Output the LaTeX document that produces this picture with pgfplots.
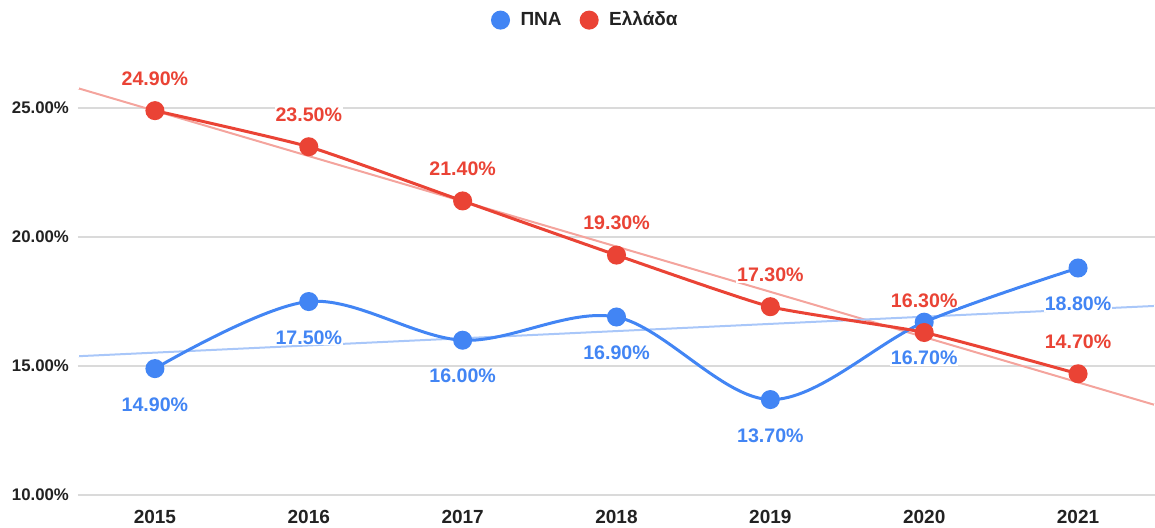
\documentclass[border=0pt]{standalone}
\usepackage{pgfplots}
\pgfplotsset{compat=1.18}
\usepackage{fontspec}
\setmainfont{Liberation Sans}
\definecolor{cblue}{HTML}{4285F4}
\definecolor{cred}{HTML}{EA4335}
\definecolor{tblue}{HTML}{A9C7F9}
\definecolor{tred}{HTML}{F4A49D}
\definecolor{gridc}{HTML}{DADADA}
\definecolor{txt}{HTML}{222222}
\begin{document}
\begin{tikzpicture}
\useasboundingbox (-39pt,-16pt) rectangle (538.5pt,247.5pt);
\begin{axis}[
  scale only axis, width=538.5pt, height=227pt,
  xmin=-0.5, xmax=6.5, ymin=10, ymax=27.6,
  clip=false,
  axis line style={draw=none},
  major tick length=0pt,
  xtick={0,1,2,3,4,5,6},
  xticklabels={2015,2016,2017,2018,2019,2020,2021},
  ytick={10,15,20,25},
  yticklabel={\pgfmathprintnumber[fixed,fixed zerofill,precision=2]{\tick}\%},
  /pgf/number format/assume math mode=true,
  ymajorgrids,
  grid style={draw=gridc, line width=0.75pt},
  x tick label style={font=\bfseries\fontsize{9.5}{11}\selectfont, text=txt, yshift=-4pt},
  y tick label style={font=\bfseries\fontsize{8.4}{10}\selectfont, text=txt, xshift=-1pt},
  legend columns=2,
  legend style={draw=none, fill=none, at={(rel axis cs:0.472,1.046)}, anchor=center,
    font=\bfseries\fontsize{9.5}{11}\selectfont, text=txt,
    /tikz/every even column/.append style={column sep=7pt}},
  legend image code/.code={\fill (0pt,0pt) circle (4pt); \path[draw=none, fill=none] (-4pt,0pt) -- (8pt,0pt);},
  point meta=y,
  nodes near coords={\pgfmathprintnumber[fixed,fixed zerofill,precision=2]{\pgfplotspointmeta}\%},
  every node near coord/.append style={font=\bfseries\fontsize{9.8}{11}\selectfont, fill=white, inner sep=0.5pt, anchor=center},
]
% trend lines
\addplot[forget plot, tred, line width=1pt, no marks, nodes near coords={}] coordinates {(-0.5,25.77) (6.5,13.49)};
\addplot[forget plot, tblue, line width=1pt, no marks, nodes near coords={}] coordinates {(-0.5,15.38) (6.5,17.33)};
% series
\addplot[cblue, line width=1.5pt, smooth, tension=0.55, mark=*, mark size=4pt, mark options={solid, fill=cblue, draw=cblue},
  every node near coord/.append style={text=cblue, yshift=-18pt}]
  coordinates {(0,14.9) (1,17.5) (2,16.0) (3,16.9) (4,13.7) (5,16.7) (6,18.8)};
\addplot[cred, line width=1.5pt, smooth, tension=0.3, mark=*, mark size=4pt, mark options={solid, fill=cred, draw=cred},
  every node near coord/.append style={text=cred, yshift=16pt}]
  coordinates {(0,24.9) (1,23.5) (2,21.4) (3,19.3) (4,17.3) (5,16.3) (6,14.7)};
\legend{ΠΝΑ, Ελλάδα}
\end{axis}
\end{tikzpicture}
\end{document}
